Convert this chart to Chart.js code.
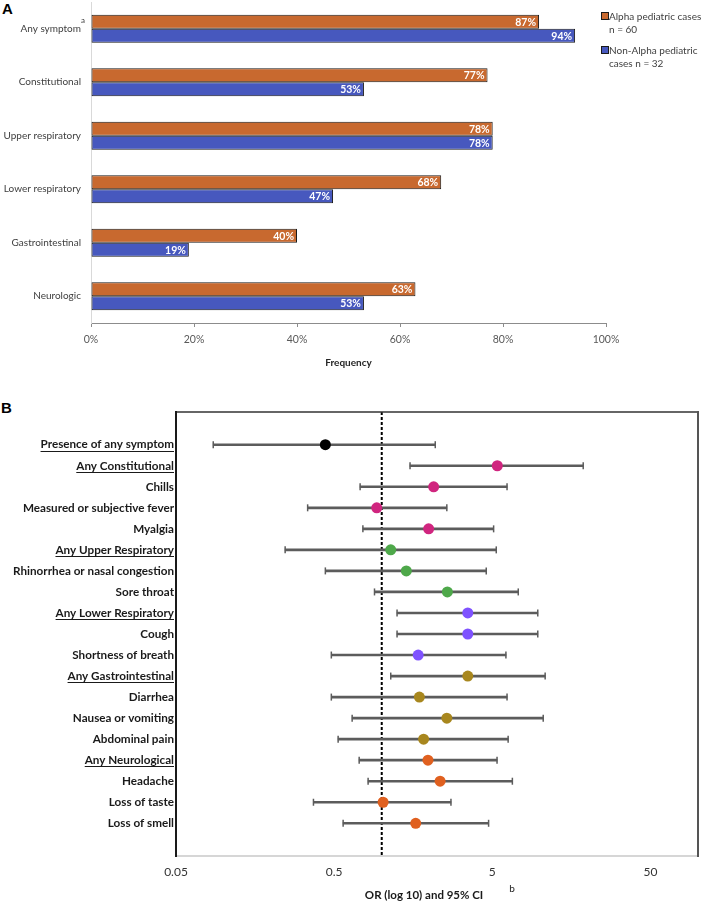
<!DOCTYPE html>
<html>
<head>
<meta charset="utf-8">
<script src="https://cdn.jsdelivr.net/npm/chart.js@4.4.1/dist/chart.umd.min.js"></script>
<style>
  html, body { margin: 0; padding: 0; background: #fff; }
  #page { position: relative; width: 705px; height: 903px; overflow: hidden; font-family: Lato, "Liberation Sans", sans-serif; }
  .tag { position: absolute; font: bold 15px "Liberation Sans", Arial, sans-serif; color: #000; }
  canvas { position: absolute; left: 0; }
  #legendA { position: absolute; left: 601px; top: 10px; font-size: 10px; line-height: 12.5px; color: #404040; }
  #legendA .item { position: relative; padding-left: 8px; margin-bottom: 9px; }
  #legendA .box { position: absolute; left: 0; top: 2px; width: 6px; height: 6px; border: 1px solid #1a1a1a; }
</style>
</head>
<body>
<div id="page">
  <div class="tag" style="left:2px; top:0px;">A</div>
  <canvas id="chartA" width="705" height="375" style="top:0px"></canvas>
  <div id="legendA"></div>
  <div class="tag" style="left:1px; top:399px;">B</div>
  <canvas id="chartB" width="705" height="513" style="top:390px"></canvas>
</div>
<script>
/* Panel A: symptom frequency by group. Panel B: odds ratios (log scale) with 95% CI. */
(function () {
  "use strict";

  // ---- panel A data ----
  var symptomGroups = ["Any symptom", "Constitutional", "Upper respiratory",
    "Lower respiratory", "Gastrointestinal", "Neurologic"];
  var alphaPct = [87, 77, 78, 68, 40, 63];
  var nonAlphaPct = [94, 53, 78, 47, 19, 53];
  var freqTicks = [0, 20, 40, 60, 80, 100];
  var seriesNames = [["Alpha pediatric cases", "n = 60"], ["Non-Alpha pediatric", "cases n = 32"]];

  // ---- panel B data ----
  var orLabels = ["Presence of any symptom", "Any Constitutional", "Chills",
    "Measured or subjective fever", "Myalgia", "Any Upper Respiratory",
    "Rhinorrhea or nasal congestion", "Sore throat", "Any Lower Respiratory",
    "Cough", "Shortness of breath", "Any Gastrointestinal", "Diarrhea",
    "Nausea or vomiting", "Abdominal pain", "Any Neurological", "Headache",
    "Loss of taste", "Loss of smell"];
  var orDomain = ["any", "constitutional", "constitutional", "constitutional", "constitutional",
    "upper", "upper", "upper", "lower", "lower", "lower", "gi", "gi", "gi", "gi",
    "neuro", "neuro", "neuro", "neuro"];
  var orIsSummary = [true, true, false, false, false, true, false, false, true, false,
    false, true, false, false, false, true, false, false, false];
  var orPoint = [0.44, 5.38, 2.13, 0.93, 1.98, 1.14, 1.43, 2.6, 3.5, 3.5,
    1.7, 3.5, 1.73, 2.58, 1.84, 1.96, 2.34, 1.02, 1.64];
  var orLow = [0.086, 1.51, 0.73, 0.34, 0.76, 0.245, 0.44, 0.9, 1.25, 1.25,
    0.48, 1.14, 0.48, 0.65, 0.53, 0.72, 0.82, 0.37, 0.57];
  var orHigh = [2.18, 18.8, 6.2, 2.58, 5.1, 5.3, 4.58, 7.3, 9.7, 9.7,
    6.1, 10.8, 6.2, 10.5, 6.3, 5.36, 6.7, 2.74, 4.74];
  var orTicks = [0.05, 0.5, 5, 50];
  var orNull = 1;
  var orTitle = "OR (log 10) and 95% CI";

  // ---- styles ----
  var FONT = "Lato, 'Liberation Sans', sans-serif";
  var ORANGE = "#c8692f";
  var BLUE = "#4758be";
  var domainColor = {
    any: "#000000", constitutional: "#d0257f", upper: "#4ea84a",
    lower: "#7f52ff", gi: "#a8871e", neuro: "#e0601f"
  };
  var WHISKER = "#5c5c5c";
  var B_LABEL_FONT = "bold 11.7px " + FONT;
  var B_TITLE_SIZE = 11.5;

  Chart.defaults.font.family = FONT;
  Chart.defaults.animation = false;

  // legend A (two-line labels, so plain html)
  var legendA = document.getElementById("legendA");
  [ORANGE, BLUE].forEach(function (c, i) {
    var item = document.createElement("div");
    item.className = "item";
    item.innerHTML = '<span class="box" style="background:' + c + '"></span>' +
      seriesNames[i][0] + "<br>" + seriesNames[i][1];
    legendA.appendChild(item);
  });

  function noEdgePadding(s) {
    s.paddingTop = 0; s.paddingBottom = 0; s.paddingLeft = 0; s.paddingRight = 0;
  }

  var barLabels = {
    id: "barLabels",
    afterDatasetsDraw: function (chart) {
      var ctx = chart.ctx;
      ctx.save();
      ctx.font = "bold 10.5px " + FONT;
      ctx.fillStyle = "#ffffff";
      ctx.textAlign = "right";
      ctx.textBaseline = "middle";
      chart.data.datasets.forEach(function (ds, di) {
        chart.getDatasetMeta(di).data.forEach(function (bar, i) {
          ctx.fillText(ds.data[i] + "%", bar.x - 3, bar.y + 0.5);
        });
      });
      // superscript on the first category
      var y = chart.scales.y;
      ctx.font = "8px " + FONT;
      ctx.fillStyle = "#404040";
      ctx.textAlign = "left";
      ctx.fillText("a", y.right - 10, y.getPixelForValue(0) - 8);
      ctx.restore();
    }
  };

  new Chart(document.getElementById("chartA"), {
    type: "bar",
    data: {
      labels: symptomGroups,
      datasets: [
        { label: seriesNames[0].join(" "), data: alphaPct, backgroundColor: ORANGE,
          borderColor: "#1a1a1a", borderWidth: 1, borderSkipped: false,
          categoryPercentage: 0.52, barPercentage: 1 },
        { label: seriesNames[1].join(" "), data: nonAlphaPct, backgroundColor: BLUE,
          borderColor: "#1a1a1a", borderWidth: 1, borderSkipped: false,
          categoryPercentage: 0.52, barPercentage: 1 }
      ]
    },
    options: {
      responsive: false,
      indexAxis: "y",
      layout: { padding: { top: 2, right: 99, left: 0, bottom: 0 } },
      plugins: { legend: { display: false }, tooltip: { enabled: false } },
      scales: {
        x: {
          min: 0, max: 100,
          afterBuildTicks: function (s) { s.ticks = freqTicks.map(function (v) { return { value: v }; }); },
          ticks: { callback: function (v) { return v + "%"; }, color: "#595959",
            font: { size: 10.5 }, padding: 6, maxRotation: 0 },
          grid: { drawOnChartArea: false, drawTicks: true, tickLength: 4, color: "#8c8c8c" },
          border: { color: "#8c8c8c" },
          title: { display: true, text: "Frequency", color: "#262626",
            font: { size: 10, weight: "bold" }, padding: { top: 0, bottom: 6 } },
          afterFit: function (s) { s.height = 52; noEdgePadding(s); }
        },
        y: {
          ticks: { color: "#404040", font: { size: 10 }, padding: 10 },
          grid: { display: false, drawTicks: false },
          border: { color: "#d9d9d9" },
          afterFit: function (s) { s.width = 91; noEdgePadding(s); }
        }
      }
    },
    plugins: [barLabels]
  });

  // ---- panel B ----
  var forestDecor = {
    id: "forestDecor",
    beforeDatasetsDraw: function (chart) {
      var ctx = chart.ctx, a = chart.chartArea, x = chart.scales.x.getPixelForValue(orNull);
      ctx.save();
      ctx.strokeStyle = "#000";
      ctx.lineWidth = 2;
      ctx.setLineDash([3, 2]);
      ctx.beginPath();
      ctx.moveTo(x, a.top);
      ctx.lineTo(x, a.bottom);
      ctx.stroke();
      ctx.restore();
    },
    afterDraw: function (chart) {
      var ctx = chart.ctx, a = chart.chartArea, ys = chart.scales.y, xs = chart.scales.x;
      ctx.save();
      // frame
      ctx.lineCap = "square";
      ctx.strokeStyle = "#c8c8c8"; ctx.lineWidth = 1.5;
      ctx.beginPath(); ctx.moveTo(a.left, a.bottom); ctx.lineTo(a.right, a.bottom); ctx.stroke();
      ctx.strokeStyle = "#333"; ctx.lineWidth = 1.5;
      ctx.beginPath(); ctx.moveTo(a.left, a.top); ctx.lineTo(a.right, a.top); ctx.stroke();
      ctx.strokeStyle = "#1a1a1a"; ctx.lineWidth = 2;
      ctx.beginPath(); ctx.moveTo(a.left, a.top); ctx.lineTo(a.left, a.bottom); ctx.stroke();
      ctx.strokeStyle = "#555"; ctx.lineWidth = 2;
      ctx.beginPath(); ctx.moveTo(a.right, a.top); ctx.lineTo(a.right, a.bottom); ctx.stroke();
      // underline the summary rows
      ctx.font = B_LABEL_FONT;
      ctx.strokeStyle = "#1a1a1a"; ctx.lineWidth = 1; ctx.lineCap = "butt";
      var xr = ys.right - ys.options.ticks.padding;
      orLabels.forEach(function (t, i) {
        if (!orIsSummary[i]) return;
        var w = ctx.measureText(t).width, y = Math.round(ys.getPixelForValue(i)) + 6.5;
        ctx.beginPath(); ctx.moveTo(xr - w, y); ctx.lineTo(xr, y); ctx.stroke();
      });
      // superscript after the axis title
      ctx.font = "bold " + B_TITLE_SIZE + "px " + FONT;
      var full = ctx.measureText(xs.options.title.text).width;
      var main = ctx.measureText(orTitle).width;
      var left = (a.left + a.right) / 2 - full / 2;
      var ty = chart.height - 1 - B_TITLE_SIZE * 0.6;
      ctx.font = "10px " + FONT;
      ctx.fillStyle = "#1a1a1a";
      ctx.textAlign = "left";
      ctx.textBaseline = "middle";
      ctx.fillText("b", left + main + 26, ty - 6);
      ctx.restore();
    }
  };

  var rows = orLabels.map(function (_, i) { return i; });

  new Chart(document.getElementById("chartB"), {
    type: "scatter",
    data: {
      datasets: [
        { label: "OR", data: rows.map(function (i) { return { x: orPoint[i], y: i }; }),
          pointRadius: 5.5, pointBorderWidth: 0,
          pointBackgroundColor: rows.map(function (i) { return domainColor[orDomain[i]]; }) },
        { label: "CI caps", data: rows.map(function (i) { return { x: orLow[i], y: i }; })
            .concat(rows.map(function (i) { return { x: orHigh[i], y: i }; })),
          pointStyle: "line", rotation: 90, pointRadius: 3.5,
          borderColor: WHISKER, borderWidth: 1.5 },
        { type: "bar", label: "95% CI", indexAxis: "y",
          data: rows.map(function (i) { return { x: [orLow[i], orHigh[i]], y: i }; }),
          backgroundColor: WHISKER, borderWidth: 0, barThickness: 2 }
      ]
    },
    options: {
      responsive: false,
      layout: { padding: { top: 22, right: 7, left: 0, bottom: 0 } },
      plugins: { legend: { display: false }, tooltip: { enabled: false } },
      scales: {
        x: {
          type: "logarithmic", min: 0.05, max: 100,
          afterBuildTicks: function (s) { s.ticks = orTicks.map(function (v) { return { value: v }; }); },
          ticks: { callback: function (v) { return String(v); }, color: "#333",
            font: { size: 12 }, padding: 9, autoSkip: false, maxRotation: 0 },
          grid: { display: false, drawTicks: false },
          border: { display: false },
          title: { display: true, text: orTitle + "\u2003\u2003\u2003", color: "#1a1a1a",
            font: { size: B_TITLE_SIZE, weight: "bold" }, padding: { top: 0, bottom: 1 } },
          afterFit: function (s) { s.height = 47; noEdgePadding(s); }
        },
        y: {
          type: "linear", min: -1, max: 19, reverse: true,
          afterBuildTicks: function (s) { s.ticks = rows.map(function (i) { return { value: i }; }); },
          ticks: { callback: function (v) { return orLabels[v]; }, color: "#1a1a1a",
            font: { size: 11.7, weight: "bold" }, padding: 2, autoSkip: false },
          grid: { display: false, drawTicks: false },
          border: { display: false },
          afterFit: function (s) { s.width = 176; noEdgePadding(s); }
        }
      }
    },
    plugins: [forestDecor]
  });
})();
</script>
</body>
</html>
